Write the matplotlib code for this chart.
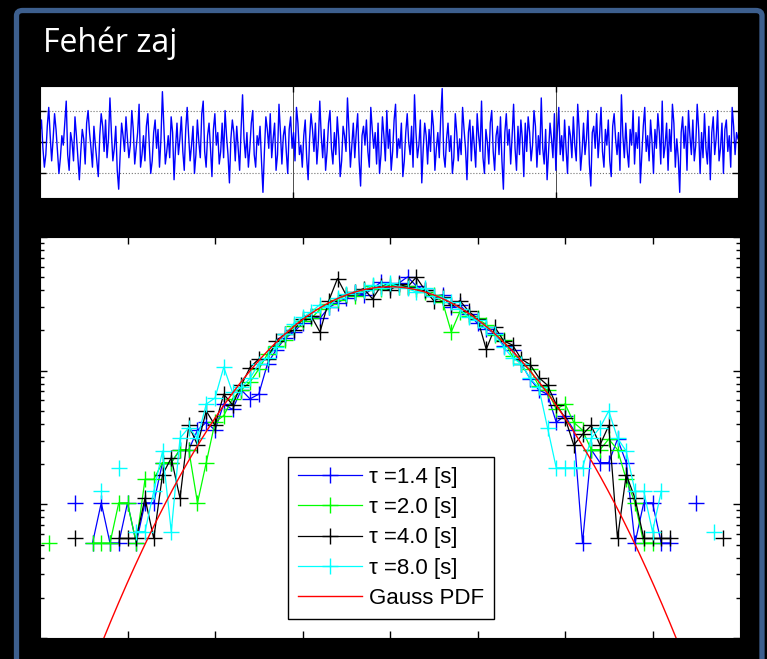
import numpy as np
import matplotlib
matplotlib.use("Agg")
import matplotlib.pyplot as plt
from matplotlib.patches import FancyBboxPatch

# white noise record shown in the upper strip
signal = [
    0.3, 0.7, -0.2, -0.8, -0.4, 0.5, 1.1, 0.2, -0.6, 0.1, 0.9, 0.4, -0.3, -1.0, -0.5, 0.2, -0.1, 0.6, 1.3, -0.4, -0.9, 0.3, 0.0, -0.6,
    0.8, 0.2, -0.5, -1.2, -0.3, 0.4, 0.1, -0.7, 0.6, 1.0, 0.3, -0.2, -0.8, 0.5, -0.1, -0.6, -1.1, 0.2, 0.9, 0.5, -0.3, 0.7, -0.5, 0.1,
    1.4, 0.3, -0.6, -0.2, 0.5, -0.9, -1.5, -0.4, 0.6, 0.2, -0.3, 0.8, 0.1, -0.5, -0.1, 1.0, 0.4, -0.7, -0.2, 0.3, 1.2, -0.8, -0.4, 0.2,
    -0.6, 0.5, 0.9, -0.1, -1.0, -0.6, 0.3, 0.7, -0.2, 0.4, -0.8, 0.1, 1.6, 0.5, -0.7, -0.3, 0.2, -0.5, 0.8, 0.3, -1.2, -0.2, 0.6, -0.4,
    0.1, 0.8, -0.3, -0.9, 0.4, 1.1, 0.2, -0.6, -0.1, 0.5, -1.0, -0.4, 0.7, 0.0, -0.5, 0.9, 1.3, -0.3, -0.8, 0.2, 0.6, -0.2, -1.1, 0.4,
    0.9, -0.1, 0.3, -0.7, -0.3, 0.6, -0.5, 1.0, 0.2, -0.4, -1.3, 0.1, 0.7, 0.3, -0.6, 0.5, -0.2, -0.9, 0.4, 1.5, 0.1, -0.5, 0.3, -0.8,
    -0.2, 0.6, 1.0, -0.4, -0.8, 0.2, -0.1, 0.5, -0.6, -1.6, -0.3, 0.8, 0.4, -0.2, 0.9, -0.5, 0.1, 0.6, -0.9, -0.4, 1.2, 0.3, -0.7, 0.2,
    0.5, -0.3, -1.0, 0.4, 0.8, -0.2, 0.3, -0.6, 1.1, 0.6, -0.4, -0.1, -0.8, 0.2, 0.7, -0.5, -1.2, 0.1, 0.9, 0.4, -0.3, 0.6, -0.7, 0.0,
    1.3, 0.2, -0.5, 0.4, -0.9, -0.3, 0.6, 1.0, -0.2, -0.7, 0.3, -0.4, 0.8, 0.1, -1.1, -0.6, 0.5, 0.2, -0.3, 1.4, 0.4, -0.8, -0.1, 0.6,
    -0.5, 0.3, 0.9, -0.6, -1.4, 0.2, 0.5, -0.1, 0.7, -0.3, -0.8, 1.1, 0.4, -0.2, 0.3, -0.7, 0.6, -1.0, -0.4, 0.8, 0.2, -0.6, 1.0, -0.2,
    0.4, -0.9, -0.3, 0.7, 1.2, -0.5, 0.1, -0.2, 0.6, -1.1, -0.6, 0.3, 0.9, 0.0, -0.4, 0.5, -0.8, 1.5, 0.3, -0.5, -0.1, 0.7, -1.3, -0.2,
    0.6, 0.2, -0.7, 0.4, -0.3, 1.0, 0.5, -0.9, -0.2, 0.3, -0.5, 0.8, 1.7, -0.4, -0.8, 0.1, 0.6, -0.3, 0.2, -1.0, -0.5, 0.9, 0.3, -0.6,
    0.1, -0.4, 1.1, 0.4, -0.2, -1.2, 0.3, 0.7, -0.6, 0.5, -0.1, -0.8, 0.9, 0.2, -0.3, 1.3, -0.5, -1.0, 0.4, 0.0, -0.7, 0.6, 1.0, -0.3,
    -0.9, 0.2, 0.5, -0.4, 0.8, -0.6, -1.5, 0.3, 0.9, -0.1, 0.4, -0.7, 0.2, 1.2, -0.2, -0.9, 0.5, -0.4, 0.7, 0.1, -1.1, 0.6, -0.3, 0.8,
    0.3, -0.6, -0.1, 1.0, 0.5, -0.8, 0.2, -0.4, 1.4, -0.2, -0.7, 0.4, -1.2, -0.3, 0.6, 0.1, -0.5, 0.9, -0.9, 0.3, 1.1, -0.4, 0.2, -0.6,
    0.7, -0.2, -1.0, 0.5, 0.2, -0.5, 0.8, -0.1, -0.6, 1.2, 0.4, -0.9, -0.3, 0.6, -0.4, 0.1, 1.0, -0.7, -1.4, 0.3, 0.5, -0.2, 0.9, -0.5,
    0.2, 1.1, -0.3, -0.8, 0.4, -0.1, 0.7, -0.6, -1.1, 0.5, 0.9, 0.1, -0.4, 0.3, -0.9, 1.5, 0.2, -0.5, 0.6, -0.3, -0.8, 0.4, -0.1, 1.0,
    -0.7, 0.3, -0.2, 0.8, -1.3, -0.4, 0.5, 1.1, -0.3, 0.2, -0.6, 0.7, 0.0, -1.0, 0.4, -0.2, 0.9, 0.3, -0.7, 1.3, -0.5, -0.1, 0.6, -0.9,
    0.4, -0.3, 1.2, 0.6, -0.8, 0.1, -0.5, -1.6, 0.3, 0.8, -0.2, 0.5, -0.9, 1.0, 0.2, -0.4, 0.7, -0.6, -0.1, 1.2, 0.4, -1.0, 0.3, -0.5,
    0.9, -0.2, -0.7, 0.5, -1.2, 0.3, 0.8, -0.4, 0.1, 1.0, -0.6, -0.2, 0.6, -1.0, 0.4, 0.7, -0.3, 0.2, -0.8, 1.1, 0.5, -0.4, 0.3, 0.1,
]
signal_xticks = [173.6, 354.1]
signal_yticks = [-1.0, 0.0, 1.0]

# histogram bins (centres) and counts per bin, one row per tau
bin_width = 0.1
bins = np.round(np.arange(-3.9, 3.85, bin_width), 2)

counts_14 = [
    0, 0, 0, 2, 0, 1, 2, 1, 1, 2, 1, 2, 2, 4, 4, 5, 5, 7, 8, 7,
    11, 10, 14, 12, 13, 22, 28, 34, 38, 44, 50, 48, 58, 63, 68, 74, 72, 80, 90, 82,
    88, 98, 84, 78, 70, 72, 58, 60, 52, 44, 40, 37, 30, 28, 22, 17, 14, 13, 8, 9,
    7, 1, 5, 4, 4, 6, 4, 1, 2, 2, 1, 1, 0, 0, 2, 0, 0, 0,
]
counts_20 = [
    1, 0, 0, 0, 0, 1, 1, 1, 2, 2, 1, 3, 3, 4, 4, 5, 5, 2, 4, 8,
    9, 12, 14, 16, 20, 26, 30, 33, 42, 46, 48, 56, 62, 66, 72, 70, 78, 84, 80, 86,
    82, 84, 80, 76, 72, 64, 38, 54, 50, 48, 43, 36, 33, 25, 22, 20, 15, 14, 10, 11,
    8, 7, 5, 5, 6, 5, 3, 2, 1, 1, 0, 0, 0, 0, 0, 0, 0, 0,
]
counts_40 = [
    0, 0, 0, 1, 0, 0, 0, 0, 1, 1, 1, 2, 1, 3, 4, 2, 7, 5, 9, 7,
    12, 10, 14, 19, 22, 22, 30, 34, 36, 44, 46, 35, 60, 88, 66, 70, 74, 62, 78, 72,
    80, 76, 90, 72, 60, 64, 56, 60, 50, 44, 26, 38, 30, 28, 22, 20, 16, 14, 10, 8,
    5, 6, 7, 5, 7, 1, 3, 2, 1, 1, 1, 1, 0, 0, 0, 0, 0, 1,
]
counts_80 = [
    0, 0, 0, 0, 0, 0, 2, 0, 3, 0, 1, 1, 2, 4, 1, 5, 6, 5, 9, 10,
    17, 11, 12, 14, 18, 20, 24, 30, 36, 40, 44, 50, 48, 56, 60, 62, 64, 70, 66, 72,
    68, 66, 62, 66, 58, 56, 52, 46, 40, 38, 34, 30, 24, 20, 18, 14, 12, 6, 3, 3,
    3, 3, 5, 6, 8, 5, 4, 2, 2, 1, 2, 0, 0, 0, 0, 0, 1, 0,
]
sample_sizes = [1950, 1950, 1800, 1600]
tau_values = [1.4, 2.0, 4.0, 8.0]
series_colors = ["#0000ff", "#00ff00", "#000000", "#00ffff"]

gauss_mean = 0.0
gauss_sigma = 0.94

fig = plt.figure(figsize=(7.67, 6.59), dpi=100, facecolor="black")

# slide frame
frame = FancyBboxPatch((16.5 / 767, -0.05), (762 - 16.5) / 767, 1.05 - 10.5 / 659,
                       boxstyle="round,pad=0,rounding_size=0.008",
                       transform=fig.transFigure, facecolor="none",
                       edgecolor="#3d5f8e", linewidth=3.8, zorder=0)
fig.patches.append(frame)

fig.text(43 / 767, 1 - 52 / 659, "Fehér zaj", color="white",
         family="Open Sans", fontsize=23, va="baseline", ha="left")

# upper strip: the noise itself
ax1 = fig.add_axes([40 / 767, 1 - 198 / 659, 698 / 767, 112 / 659])
ax1.plot(np.arange(len(signal)), signal, color="#0000ff", linewidth=1.0)
ax1.set_xlim(0, len(signal) - 1)
ax1.set_ylim(-1.78, 1.78)
ax1.set_xticks(signal_xticks)
ax1.set_yticks(signal_yticks)
ax1.grid(True, axis="y", color="0.45", linestyle=":", linewidth=0.8)
ax1.grid(True, axis="x", color="0.3", linestyle="-", linewidth=0.7)
ax1.set_axisbelow(True)
ax1.tick_params(direction="in", length=4, width=1, top=True, right=True,
                labelbottom=False, labelleft=False, color="black")
for s in ax1.spines.values():
    s.set_color("black")

# lower panel: normalised histograms against the Gaussian
ax2 = fig.add_axes([40 / 767, 1 - 638 / 659, 700 / 767, 401 / 659])
all_counts = [counts_14, counts_20, counts_40, counts_80]
for cnt, n, tau, col in zip(all_counts, sample_sizes, tau_values, series_colors):
    dens = np.array(cnt, dtype=float) / (n * bin_width)
    dens[dens <= 0] = np.nan
    ax2.plot(bins, dens, color=col, linewidth=0.9, marker="+",
             markersize=11, markeredgewidth=1.0, label="τ =%.1f [s]" % tau)

xg = np.linspace(-4, 4, 801)
pdf = np.exp(-0.5 * ((xg - gauss_mean) / gauss_sigma) ** 2) / (gauss_sigma * np.sqrt(2 * np.pi))
ax2.plot(xg, pdf, color="#ff0000", linewidth=1.0, label="Gauss PDF")

ax2.set_yscale("log")
ax2.set_xlim(-4, 4)
ax2.set_ylim(1e-3, 1)
ax2.set_xticks(np.arange(-3, 4, 1))
ax2.tick_params(which="major", direction="in", length=5, width=1, top=True, right=True,
                labelbottom=False, labelleft=False)
ax2.tick_params(which="minor", direction="in", length=3, width=1, top=True, right=True,
                labelbottom=False, labelleft=False)
for s in ax2.spines.values():
    s.set_color("black")

leg = ax2.legend(loc="lower left", bbox_to_anchor=(0.354, 0.047), borderaxespad=0,
                 numpoints=1, prop={"family": "Liberation Sans", "size": 16},
                 handlelength=2.9, handletextpad=0.3, labelspacing=0.42,
                 borderpad=0.45, fancybox=False, framealpha=1)
leg.get_frame().set_edgecolor("black")
leg.get_frame().set_linewidth(1.0)

fig.savefig("out.png", dpi=100, facecolor="black")
